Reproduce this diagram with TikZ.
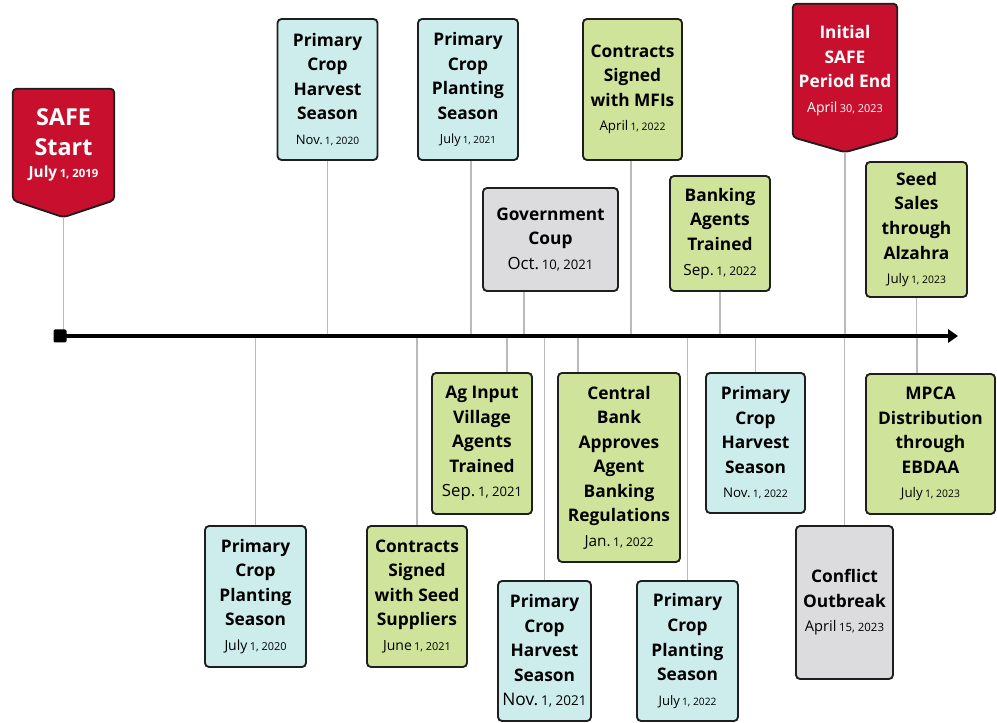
\documentclass[tikz,border=0pt]{standalone}
\usepackage{fontspec}
\setmainfont{Open Sans}
\usepackage{xcolor}
\definecolor{safered}{HTML}{C8102E}
\definecolor{cropfill}{HTML}{CDEDEC}
\definecolor{mstfill}{HTML}{D0E39A}
\definecolor{shockfill}{HTML}{DCDCDE}
\definecolor{edge}{HTML}{1E1E1E}
\definecolor{stemgray}{HTML}{B8BABD}
\usepackage{tikz}
\usetikzlibrary{arrows.meta,calc,backgrounds}
\newcommand{\evtfont}{\fontsize{13}{18.4}\selectfont\bfseries}
\newcommand{\bigflagfont}{\fontsize{17.5}{22.5}\selectfont\bfseries}
\newcommand{\when}[3][10]{{\mdseries\fontsize{#1}{18.4}\selectfont #2\,\fontsize{\fpeval{0.78*#1}}{18.4}\selectfont #3}}
\tikzset{
  >={Triangle[length=7.5pt,width=10pt]},
  evt/.style     ={draw=edge,line width=1.4pt,rounded corners=3pt,
                   align=center,inner sep=0pt,font=\evtfont},
  crop/.style    ={evt,fill=cropfill},
  milestone/.style={evt,fill=mstfill},
  shock/.style   ={evt,fill=shockfill},
  flagtxt/.style ={align=center,text=white,font=\evtfont,inner sep=0pt},
  flag/.style    ={draw=edge,fill=safered,line width=1.4pt,rounded corners=3pt},
  stem/.style    ={draw=stemgray,line width=1.1pt},
  axis/.style    ={->,line width=2.3pt},
  origin/.style  ={fill=black,minimum size=9.75pt,inner sep=0pt,rounded corners=1pt},
}

\begin{document}
\begin{tikzpicture}[x=0.75pt,y=-0.75pt]
\useasboundingbox (0,0) rectangle (997,723);
% axis ends
\coordinate (axisL) at (60,336);
\coordinate (axisR) at (958,336);
% SAFE flags
\node[flagtxt,font=\bigflagfont,minimum width=75.75pt,minimum height=83.25pt] (safestart) at (63.5,144.5)
 {SAFE\\Start\\[-6pt]{\fontsize{11.5}{14}\selectfont July\,\fontsize{8.5}{14}\selectfont 1, 2019}};
\coordinate (safestarttip) at ($(safestart.south)+(0,17)$);
\node[flagtxt,minimum width=78pt,minimum height=99.75pt] (safeend) at (845,70.5)
 {Initial\\SAFE\\Period End\\\when[10.5]{April}{30, 2023}};
\coordinate (safeendtip) at ($(safeend.south)+(0,15)$);
\begin{scope}[on background layer]
\draw[flag] (safestart.north west) -- (safestart.north east) -- (safestart.south east)
  -- (safestarttip) -- (safestart.south west) -- cycle;
\draw[flag] (safeend.north west) -- (safeend.north east) -- (safeend.south east)
  -- (safeendtip) -- (safeend.south west) -- cycle;
\end{scope}
% events above the axis
\node[crop,minimum width=75pt,minimum height=105.75pt] (harv20) at (327.5,89.5)
 {Primary\\Crop\\Harvest\\Season\\\when[9.8]{Nov.}{1, 2020}};
\node[crop,minimum width=75pt,minimum height=105.75pt] (plant21) at (468,89.5)
 {Primary\\Crop\\Planting\\Season\\\when[9.5]{July}{1, 2021}};
\node[shock,minimum width=101.25pt,minimum height=77.25pt] (coup) at (550.5,239.5)
 {Government\\Coup\\\when[12.6]{Oct.}{10, 2021}};
\node[milestone,minimum width=74.25pt,minimum height=105.75pt] (mfis) at (632.5,89.5)
 {Contracts\\Signed\\with MFIs\\\when{April}{1, 2022}};
\node[milestone,minimum width=75pt,minimum height=86.25pt] (bankagents) at (720,233.5)
 {Banking\\Agents\\Trained\\\when[11.5]{Sep.}{1, 2022}};
\node[milestone,minimum width=75.75pt,minimum height=101.25pt] (seedsales) at (916.5,229.5)
 {Seed\\Sales\\through\\Alzahra\\\when{July}{1, 2023}};
% events below the axis
\node[crop,minimum width=75.75pt,minimum height=105.75pt] (plant20) at (255.5,596.5)
 {Primary\\Crop\\Planting\\Season\\\when[10.5]{July}{1, 2020}};
\node[milestone,minimum width=75pt,minimum height=105.75pt] (seedsup) at (417,596.5)
 {Contracts\\Signed\\with Seed\\Suppliers\\\when[10.5]{June}{1, 2021}};
\node[milestone,minimum width=75pt,minimum height=105.75pt] (aginput) at (482,443.5)
 {Ag Input\\Village\\Agents\\Trained\\\when[12.6]{Sep.}{1, 2021}};
\node[crop,minimum width=69.75pt,minimum height=105pt] (harv21) at (544.5,651)
 {Primary\\Crop\\Harvest\\Season\\\when[13]{Nov.}{1, 2021}};
\node[milestone,minimum width=91.5pt,minimum height=141.75pt] (central) at (619,467.5)
 {Central\\Bank\\Approves\\Agent\\Banking\\Regulations\\\when[11.5]{Jan.}{1, 2022}};
\node[crop,minimum width=75.75pt,minimum height=105pt] (plant22) at (687.5,651)
 {Primary\\Crop\\Planting\\Season\\\when[9.8]{July}{1, 2022}};
\node[crop,minimum width=74.25pt,minimum height=105pt] (harv22) at (755.5,443)
 {Primary\\Crop\\Harvest\\Season\\\when{Nov.}{1, 2022}};
\node[shock,minimum width=72.75pt,minimum height=114.75pt] (conflict) at (844.5,602.5)
 {Conflict\\Outbreak\\\when[11]{April}{15, 2023}};
\node[milestone,minimum width=96.75pt,minimum height=105pt] (mpca) at (930.5,444)
 {MPCA\\Distribution\\through\\EBDAA\\\when{July}{1, 2023}};
% dates on the axis off the box centre
\coordinate (plant21day) at (471,336);
\coordinate (coupday) at (524,336);
\coordinate (mfisday) at (631,336);
\coordinate (aginputday) at (507,336);
\coordinate (centralday) at (578,336);
\coordinate (mpcaday) at (917,336);
% stems
\draw[stem] (safestarttip) -- (safestarttip |- axisL);
\draw[stem] (safeendtip) -- (safeendtip |- axisL);
\draw[stem] (harv20.south) -- (harv20.south |- axisL);
\draw[stem] (plant21.south -| plant21day) -- (plant21day);
\draw[stem] (coup.south -| coupday) -- (coupday);
\draw[stem] (mfis.south -| mfisday) -- (mfisday);
\draw[stem] (bankagents.south) -- (bankagents.south |- axisL);
\draw[stem] (seedsales.south) -- (seedsales.south |- axisL);
\draw[stem] (plant20.north) -- (plant20.north |- axisL);
\draw[stem] (seedsup.north) -- (seedsup.north |- axisL);
\draw[stem] (aginput.north -| aginputday) -- (aginputday);
\draw[stem] (harv21.north) -- (harv21.north |- axisL);
\draw[stem] (central.north -| centralday) -- (centralday);
\draw[stem] (plant22.north) -- (plant22.north |- axisL);
\draw[stem] (harv22.north) -- (harv22.north |- axisL);
\draw[stem] (conflict.north) -- (conflict.north |- axisL);
\draw[stem] (mpca.north -| mpcaday) -- (mpcaday);
% timeline
\draw[axis] (axisL) -- (axisR);
\node[origin] (start) at (axisL) {};
\end{tikzpicture}
\end{document}
